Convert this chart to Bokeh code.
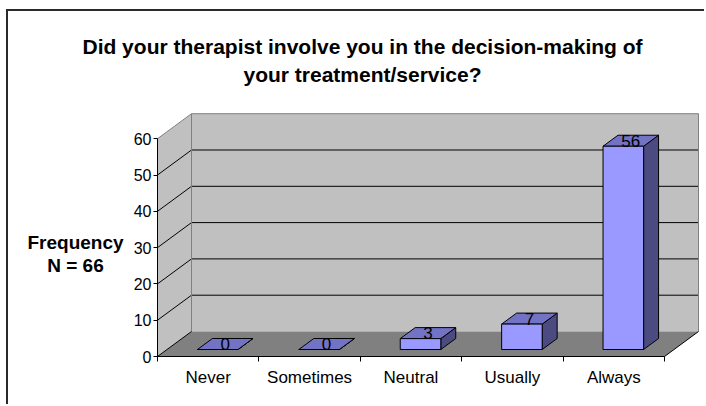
from bokeh.plotting import figure
from bokeh.models import FixedTicker, Label, Range1d, LinearAxis
from bokeh.embed import file_html
from bokeh.resources import INLINE
from bokeh.core.properties import value

# ---------------- data ----------------
categories = ["Never", "Sometimes", "Neutral", "Usually", "Always"]
frequency = [0, 0, 3, 7, 56]
y_ticks = [0, 10, 20, 30, 40, 50, 60]
title_lines = ["Did your therapist involve you in the decision-making of",
               "your treatment/service?"]
axis_label_lines = ["Frequency", "N = 66"]

# ---------------- geometry (pixels in the reference picture) ----------------
OFF_X, OFF_Y = 8, 11     # page position of the canvas origin (after CSS margin + border)
CW = 101.4               # px per category
VU = 3.63                # px per frequency unit
DX_PX, DY_PX = 34, 25    # 3-D depth offset of the back wall
DXd, DYd = DX_PX / CW, DY_PX / VU
F0, F1 = 0.28, 0.72      # bar front/back position within the depth
BAR_W = 0.4              # bar width as share of a category
YMAX = y_ticks[-1]
n = len(categories)

REF_X0, REF_Y0 = 157, 356          # front axis origin in reference pixels
W, H = 698, 395

cx0 = REF_X0 - OFF_X               # canvas x of data x=0
cy0 = REF_Y0 - OFF_Y               # canvas y (from top) of data y=0


def dx(ref_x):
    return (ref_x - REF_X0) / CW


def dy(ref_y):
    return (REF_Y0 - ref_y) / VU


FONT = "Liberation Sans"

p = figure(width=W, height=H,
           x_range=Range1d(-cx0 / CW, (W - cx0) / CW),
           y_range=Range1d(-(H - cy0) / VU, cy0 / VU),
           output_backend="svg", toolbar_location=None,
           x_axis_location=None, y_axis_location=None,
           min_border_left=0, min_border_right=0,
           min_border_top=0, min_border_bottom=0,
           outline_line_color=None,
           styles={"margin-left": "6px", "margin-top": "9px",
                   "border-left": "2px solid #2a2a2a",
                   "border-top": "2px solid #2a2a2a"})
p.xgrid.visible = False
p.ygrid.visible = False

# ---------------- walls and floor ----------------
x_right = n + DXd
p.patch([0, DXd, DXd, 0], [0, DYd, YMAX + DYd, YMAX],
        fill_color="#C0C0C0", line_color=None)
p.patch([DXd, x_right, x_right, DXd], [DYd, DYd, YMAX + DYd, YMAX + DYd],
        fill_color="#C0C0C0", line_color=None)
p.patch([0, n, x_right, DXd], [0, 0, DYd, DYd],
        fill_color="#808080", line_color=None)

# gridlines on the back and side wall
inner = y_ticks[1:-1]
p.segment(x0=[DXd] * len(inner), y0=[v + DYd for v in inner],
          x1=[x_right] * len(inner), y1=[v + DYd for v in inner],
          line_color="black", line_width=1)
p.segment(x0=[0] * len(inner), y0=inner,
          x1=[DXd] * len(inner), y1=[v + DYd for v in inner],
          line_color="black", line_width=1)

# wall edges (gray)
p.line([0, DXd, x_right, x_right], [YMAX, YMAX + DYd, YMAX + DYd, DYd],
       line_color="#808080", line_width=1)
p.line([DXd, DXd], [DYd, YMAX + DYd], line_color="#808080", line_width=1)

# floor side edges (black)
p.line([0, DXd], [0, DYd], line_color="black", line_width=1)
p.line([n, x_right], [0, DYd], line_color="black", line_width=1)

# ---------------- axes (drawn at the front edge of the 3-D box) ----------------
xa = LinearAxis(fixed_location=0, bounds=(0, n),
                ticker=FixedTicker(ticks=[i + 0.5 for i in range(n)],
                                   minor_ticks=list(range(n + 1))))
xa.major_label_overrides = {i + 0.5: c for i, c in enumerate(categories)}
xa.axis_line_color = "black"
xa.major_tick_in = 0
xa.major_tick_out = 0
xa.major_tick_line_color = None
xa.minor_tick_in = 0
xa.minor_tick_out = 5
xa.minor_tick_line_color = "black"
xa.major_label_standoff = 6
xa.major_label_text_font = FONT
xa.major_label_text_font_size = "17px"
xa.major_label_text_color = "black"
p.add_layout(xa, "below")

ya = LinearAxis(fixed_location=0, bounds=(0, YMAX),
                ticker=FixedTicker(ticks=y_ticks, minor_ticks=[]))
ya.axis_line_color = "black"
ya.major_tick_in = 0
ya.major_tick_out = 4
ya.major_tick_line_color = "black"
ya.minor_tick_line_color = None
ya.major_label_standoff = 2
ya.major_label_text_font = FONT
ya.major_label_text_font_size = "16px"
ya.major_label_text_color = "black"
p.add_layout(ya, "left")

# ---------------- 3-D bars ----------------
lefts = [i + 0.5 - BAR_W / 2 for i in range(n)]
rights = [i + 0.5 + BAR_W / 2 for i in range(n)]
ox0, oy0 = F0 * DXd, F0 * DYd
ox1, oy1 = F1 * DXd, F1 * DYd

top_xs = [[l + ox0, r + ox0, r + ox1, l + ox1] for l, r in zip(lefts, rights)]
top_ys = [[v + oy0, v + oy0, v + oy1, v + oy1] for v in frequency]
side_xs = [[r + ox0, r + ox1, r + ox1, r + ox0] for r in rights]
side_ys = [[oy0, oy1, v + oy1, v + oy0] for v in frequency]

p.patches(side_xs, side_ys, fill_color="#4B4B82", line_color="black", line_width=1)
p.patches(top_xs, top_ys, fill_color="#7373C6", line_color="black", line_width=1)
p.quad(left=[l + ox0 for l in lefts], right=[r + ox0 for r in rights],
       bottom=[oy0] * n, top=[v + oy0 for v in frequency],
       fill_color="#9999FF", line_color="black", line_width=1)

# data labels
om_x, om_y = (F0 + F1) / 2 * DXd, (F0 + F1) / 2 * DYd
p.text(x=[i + 0.5 + om_x for i in range(n)],
       y=[v + om_y for v in frequency],
       text=[str(v) for v in frequency],
       text_align="center", text_baseline="alphabetic",
       text_font=value(FONT), text_font_size="17px", text_color="black")

# ---------------- title and axis label ----------------
for txt, ry in zip(title_lines, [45.7, 74.0]):
    p.add_layout(Label(x=dx(362), y=dy(ry), text=txt, text_align="center",
                       text_baseline="alphabetic", text_font=FONT,
                       text_font_size="21px", text_font_style="bold",
                       text_color="black"))
for txt, ry in zip(axis_label_lines, [241.7, 265.0]):
    p.add_layout(Label(x=dx(75), y=dy(ry), text=txt, text_align="center",
                       text_baseline="alphabetic", text_font=FONT,
                       text_font_size="19px", text_font_style="bold",
                       text_color="black"))

open("out.html", "w").write(file_html(p, INLINE))
